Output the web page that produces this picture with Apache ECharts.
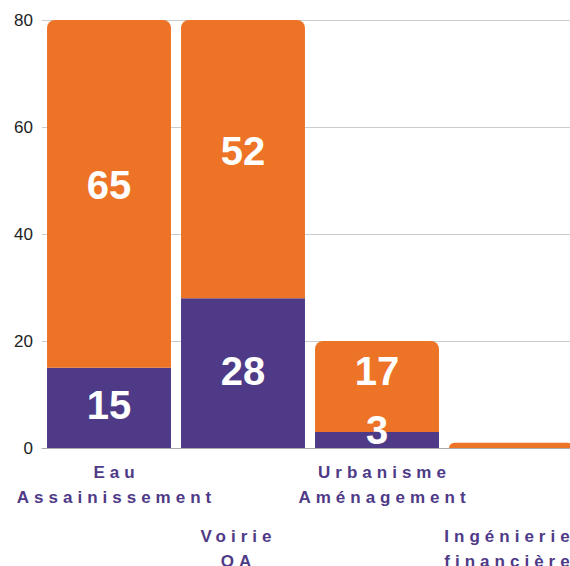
<!DOCTYPE html>
<html>
<head>
<meta charset="utf-8">
<script src="https://cdn.jsdelivr.net/npm/echarts@6/dist/echarts.min.js"></script>
<style>
  html, body { margin: 0; padding: 0; background: #fff; }
  #chart { width: 570px; height: 566px; }
  #chart text[fill="#4e3a87"] { letter-spacing: 5px; }
</style>
</head>
<body>
<div id="chart"></div>
<script>
const categories = ["Eau\nAssainissement", "Voirie\nOA", "Urbanisme\nAménagement", "Ingénierie\nfinancière"];
const purpleValues = [15, 28, 3, 0];
const orangeValues = [65, 52, 17, 1];
const yTicks = [0, 20, 40, 60, 80];

// vertical nudges of the value labels (px)
const purpleLabelDy = [-3, -2, -10, 0];
const orangeLabelDy = [-9, -8, -15, 0];
// horizontal padding [left, right] of each category label
const catPad = [[15, 0], [0, 9], [15, 0], [0, 3]];

const PURPLE = "#4e3a87";
const ORANGE = "#ed7326";

const chart = echarts.init(document.getElementById("chart"), null, { renderer: "svg" });

const valueLabel = {
  show: true,
  position: "inside",
  color: "#fff",
  fontFamily: "Liberation Sans, Arial, sans-serif",
  fontWeight: "bold",
  fontSize: 40,
  formatter: (p) => (p.value > 1 ? String(p.value) : "")
};

const withDy = (vals, dy) => vals.map((v, i) => ({ value: v, label: { offset: [0, dy[i]] } }));

const rich = { gap: { fontSize: 10, lineHeight: 64 } };
catPad.forEach((p, i) => {
  rich["c" + i] = {
    color: PURPLE,
    fontFamily: "Liberation Sans, Arial, sans-serif",
    fontWeight: "bold",
    fontSize: 17,
    lineHeight: 25,
    align: "center",
    padding: [0, p[1], 0, p[0]]
  };
});

chart.setOption({
  animation: false,
  grid: { left: 42, width: 536, top: 20, bottom: 118, outerBoundsMode: "none", containLabel: false },
  xAxis: {
    type: "category",
    data: categories,
    axisTick: { show: false },
    axisLine: { lineStyle: { color: "#aaa", width: 1 } },
    axisLabel: {
      interval: 0,
      margin: 12,
      formatter: (v, i) => {
        const lines = v.split("\n").map((s) => "{c" + i + "|" + s + "}");
        return (i % 2 ? "{gap| }\n" : "") + lines.join("\n");
      },
      rich: rich
    }
  },
  yAxis: {
    type: "value",
    min: yTicks[0],
    max: yTicks[yTicks.length - 1],
    interval: 20,
    axisLine: { show: false },
    axisTick: { show: false },
    axisLabel: {
      margin: 9,
      color: "#222",
      fontFamily: "Liberation Sans, Arial, sans-serif",
      fontSize: 17
    },
    splitLine: { lineStyle: { color: "#cccccc", width: 1 } }
  },
  series: [
    {
      type: "bar",
      stack: "total",
      data: withDy(purpleValues, purpleLabelDy),
      barCategoryGap: "7.5%",
      itemStyle: { color: PURPLE },
      label: valueLabel
    },
    {
      type: "bar",
      stack: "total",
      data: withDy(orangeValues, orangeLabelDy),
      barCategoryGap: "7.5%",
      itemStyle: { color: ORANGE, borderRadius: [8, 8, 0, 0] },
      label: valueLabel
    }
  ]
});

// letter spacing for the category labels (svg renderer)
function spaceLabels() {
  document.querySelectorAll("#chart text").forEach((t) => {
    const fill = (t.getAttribute("fill") || getComputedStyle(t).fill || "").toLowerCase();
    if (fill === PURPLE || fill === "rgb(78, 58, 135)") t.style.letterSpacing = "5px";
  });
}
chart.on("finished", spaceLabels);
spaceLabels();
</script>
</body>
</html>
